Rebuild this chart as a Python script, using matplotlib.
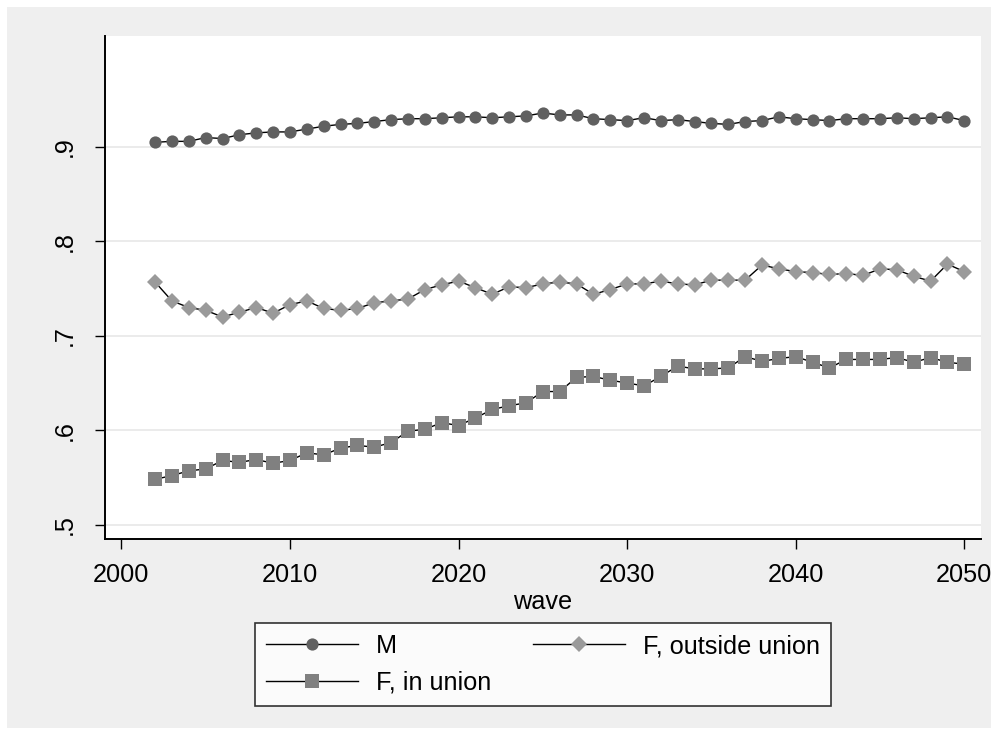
import matplotlib
matplotlib.use('Agg')
import matplotlib.pyplot as plt
from matplotlib.patches import Rectangle

plt.rcParams['font.family'] = ['Liberation Sans', 'DejaVu Sans']

wave = list(range(2002, 2051))

# share by group, one value per wave
m = [0.905, 0.906, 0.906, 0.910, 0.909, 0.913, 0.915, 0.916, 0.916, 0.919,
     0.922, 0.924, 0.925, 0.927, 0.929, 0.930, 0.930, 0.931, 0.932,
     0.932, 0.931, 0.932, 0.933, 0.936, 0.934, 0.934, 0.930, 0.929, 0.928,
     0.931, 0.928, 0.929, 0.927, 0.925, 0.924, 0.927, 0.928, 0.932, 0.930,
     0.929, 0.928, 0.930, 0.930, 0.930, 0.931, 0.930, 0.931, 0.932, 0.928]

f_outside = [0.757, 0.737, 0.730, 0.727, 0.720, 0.725, 0.730, 0.724, 0.733, 0.737,
             0.729, 0.727, 0.729, 0.735, 0.737, 0.739, 0.749, 0.754, 0.758,
             0.751, 0.744, 0.752, 0.751, 0.755, 0.757, 0.755, 0.744, 0.749, 0.755,
             0.755, 0.758, 0.755, 0.754, 0.759, 0.759, 0.759, 0.775, 0.771, 0.768,
             0.767, 0.765, 0.766, 0.764, 0.771, 0.770, 0.763, 0.758, 0.776, 0.768]

f_in = [0.548, 0.552, 0.557, 0.559, 0.568, 0.566, 0.569, 0.565, 0.568, 0.576,
        0.574, 0.581, 0.584, 0.582, 0.587, 0.599, 0.601, 0.608, 0.605,
        0.613, 0.622, 0.626, 0.629, 0.641, 0.641, 0.656, 0.657, 0.653, 0.650,
        0.647, 0.657, 0.668, 0.665, 0.665, 0.666, 0.678, 0.673, 0.676, 0.678,
        0.672, 0.666, 0.675, 0.675, 0.675, 0.677, 0.672, 0.677, 0.672, 0.670]

xticks = [2000, 2010, 2020, 2030, 2040, 2050]
yticks = [0.5, 0.6, 0.7, 0.8, 0.9]
ytick_labels = ['.5', '.6', '.7', '.8', '.9']

fs = 18.2

fig = plt.figure(figsize=(9.98, 7.35), dpi=100, facecolor='white')
# grey graph region with a thin white margin
fig.patches.append(Rectangle((7 / 998, 7 / 735), 984 / 998, 721 / 735,
                             transform=fig.transFigure, facecolor='#efefef',
                             edgecolor='none', zorder=-1))

ax = fig.add_axes([105 / 998, 1 - 539 / 735, 875.5 / 998, 503 / 735])
ax.set_facecolor('white')

ax.plot(wave, m, color='black', lw=1.0, marker='o', ms=8.8,
        mfc='#606060', mec='#606060', mew=0, label='M')
ax.plot(wave, f_outside, color='black', lw=1.0, marker='D', ms=8.4,
        mfc='#9a9a9a', mec='#9a9a9a', mew=0, label='F, outside union')
ax.plot(wave, f_in, color='black', lw=1.0, marker='s', ms=9.4,
        mfc='#808080', mec='#808080', mew=0, label='F, in union')

ax.set_xlim(1999.03, 2050.96)
ax.set_ylim(0.4848, 1.0176)
ax.set_xticks(xticks)
ax.set_yticks(yticks)
ax.set_yticklabels(ytick_labels, rotation=90, va='center')
ax.grid(axis='y', color='#e8e8e8', lw=1.2)
ax.set_axisbelow(True)

for side in ['top', 'right']:
    ax.spines[side].set_visible(False)
ax.spines['left'].set_linewidth(1.4)
ax.spines['bottom'].set_linewidth(1.4)
ax.tick_params(axis='both', length=7, width=1, labelsize=fs, color='black')
ax.tick_params(axis='y', pad=13)
ax.tick_params(axis='x', pad=10.5)
ax.set_xlabel('wave', fontsize=fs, labelpad=2)

h, l = ax.get_legend_handles_labels()
order = [0, 2, 1]
leg = fig.legend([h[i] for i in order], [l[i] for i in order],
                 ncol=2, loc='center', bbox_to_anchor=(543 / 998, 1 - 664.5 / 735),
                 fontsize=fs, frameon=True, fancybox=False, edgecolor='black',
                 handlelength=3.64, handletextpad=0.71, columnspacing=1.65,
                 labelspacing=0.5, borderpad=0.45)
leg.get_frame().set_linewidth(1.2)

fig.savefig('out.png', dpi=100, facecolor=fig.get_facecolor())
